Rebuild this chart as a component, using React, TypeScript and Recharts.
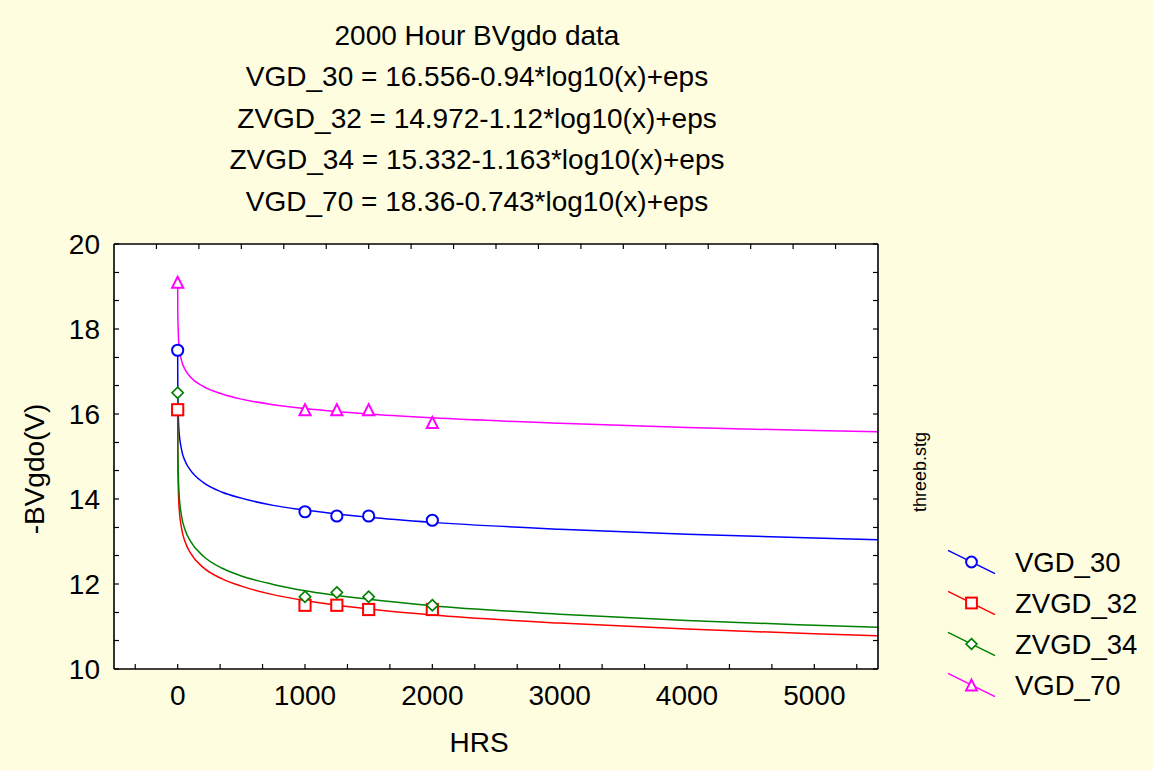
import React from "react";
import { ComposedChart, Line, Scatter, XAxis, YAxis, CartesianGrid } from "recharts";

// measured points (HRS vs -BVgdo)
const hours = [0, 1000, 1250, 1500, 2000];
const vgd30 = [17.5, 13.7, 13.6, 13.6, 13.5];
const zvgd32 = [16.1, 11.5, 11.5, 11.4, 11.4];
const zvgd34 = [16.5, 11.7, 11.8, 11.7, 11.5];
const vgd70 = [19.1, 16.1, 16.1, 16.1, 15.8];

// fitted log curves
const fitHours = [0.1, 1, 10, 30, 60, 100, 200, 350, 500, 750, 1000, 1500, 2000, 3000, 4000, 5000, 5500];
const fit30 = [17.5, 16.56, 15.62, 15.17, 14.88, 14.68, 14.39, 14.16, 14.02, 13.85, 13.74, 13.57, 13.45, 13.29, 13.17, 13.08, 13.04];
const fit32 = [16.09, 14.97, 13.85, 13.32, 12.98, 12.73, 12.39, 12.12, 11.95, 11.75, 11.61, 11.41, 11.27, 11.08, 10.94, 10.83, 10.78];
const fit34 = [16.5, 15.33, 14.17, 13.61, 13.26, 13.01, 12.66, 12.37, 12.19, 11.99, 11.84, 11.64, 11.49, 11.29, 11.14, 11.03, 10.98];
const fit70 = [19.1, 18.36, 17.62, 17.26, 17.04, 16.87, 16.65, 16.47, 16.35, 16.22, 16.13, 16.0, 15.91, 15.78, 15.68, 15.61, 15.58];

const xLabels = [0, 1000, 2000, 3000, 4000, 5000];
const xTicks = [-333.33, 0, 333.33, 666.67, 1000, 1333.33, 1666.67, 2000, 2333.33, 2666.67, 3000, 3333.33, 3666.67, 4000, 4333.33, 4666.67, 5000, 5333.33];
const topTicks = [-166.67, 166.67, 500, 833.33, 1166.67, 1500, 1833.33, 2166.67, 2500, 2833.33, 3166.67, 3500, 3833.33, 4166.67, 4500, 4833.33, 5166.67];
const yLabels = [10, 12, 14, 16, 18, 20];
const yTicks = [10, 10.67, 11.33, 12, 12.67, 13.33, 14, 14.67, 15.33, 16, 16.67, 17.33, 18, 18.67, 19.33, 20];

const titleLines = [
  "2000 Hour BVgdo data",
  "VGD_30 = 16.556-0.94*log10(x)+eps",
  "ZVGD_32 = 14.972-1.12*log10(x)+eps",
  "ZVGD_34 = 15.332-1.163*log10(x)+eps",
  "VGD_70 = 18.36-0.743*log10(x)+eps",
];

const FONT = "'Liberation Sans', Arial, sans-serif";

type Kind = "circle" | "square" | "diamond" | "triangle";

const series: { name: string; color: string; kind: Kind; pts: number[]; fit: number[] }[] = [
  { name: "VGD_30", color: "#0000ff", kind: "circle", pts: vgd30, fit: fit30 },
  { name: "ZVGD_32", color: "#ff0000", kind: "square", pts: zvgd32, fit: fit32 },
  { name: "ZVGD_34", color: "#008000", kind: "diamond", pts: zvgd34, fit: fit34 },
  { name: "VGD_70", color: "#ff00ff", kind: "triangle", pts: vgd70, fit: fit70 },
];

function Marker({ kind, cx, cy, color, s = 5.6 }: { kind: Kind; cx: number; cy: number; color: string; s?: number }) {
  const common = { fill: "#fff", stroke: color, strokeWidth: 2 };
  if (kind === "circle") return <circle cx={cx} cy={cy} r={s} {...common} />;
  if (kind === "square") return <rect x={cx - s} y={cy - s} width={s * 2} height={s * 2} {...common} />;
  if (kind === "diamond")
    return <polygon points={`${cx},${cy - s} ${cx + s},${cy} ${cx},${cy + s} ${cx - s},${cy}`} {...common} strokeWidth={1.7} />;
  return <polygon points={`${cx},${cy - s} ${cx + s},${cy + s} ${cx - s},${cy + s}`} {...common} />;
}

const near = (a: number[], v: number) => a.some((t) => Math.abs(t - v) < 0.01);

const BottomTick = (p: any) => {
  const { x, y, payload } = p;
  return (
    <g>
      <line x1={x} y1={y} x2={x} y2={y - 5} stroke="#000" strokeWidth={1.2} />
      {near(xLabels, payload.value) && (
        <text x={x} y={y + 36} textAnchor="middle" fontSize={28} fontFamily={FONT} fill="#000">
          {Math.round(payload.value)}
        </text>
      )}
    </g>
  );
};

const TopTick = (p: any) => (
  <line x1={p.x} y1={p.y} x2={p.x} y2={p.y + 5} stroke="#000" strokeWidth={1.2} />
);

const LeftTick = (p: any) => {
  const { x, y, payload } = p;
  return (
    <g>
      <line x1={x} y1={y} x2={x + 5} y2={y} stroke="#000" strokeWidth={1.2} />
      {near(yLabels, payload.value) && (
        <text x={x - 14} y={y + 10} textAnchor="end" fontSize={28} fontFamily={FONT} fill="#000">
          {Math.round(payload.value)}
        </text>
      )}
    </g>
  );
};

const RightTick = (p: any) => (
  <line x1={p.x} y1={p.y} x2={p.x - 5} y2={p.y} stroke="#000" strokeWidth={1.2} />
);

export default function App() {
  const axisLine = { stroke: "#000", strokeWidth: 1.6 };
  return (
    <div style={{ position: "relative", width: 1153, height: 770, background: "#fffde0" }}>
      <style>{`body{margin:0}`}</style>
      <ComposedChart width={1153} height={770} margin={{ top: 243, right: 274, bottom: 0, left: 0 }}>
        <CartesianGrid horizontal={false} vertical={false} fill="#ffffff" />
        <XAxis
          dataKey="hrs"
          type="number"
          domain={[-500, 5500]}
          allowDataOverflow
          ticks={xTicks}
          interval={0}
          height={101}
          tickSize={0}
          tickMargin={0}
          tickLine={false}
          axisLine={axisLine}
          tick={<BottomTick />}
        />
        <XAxis
          xAxisId="top"
          dataKey="hrs"
          orientation="top"
          type="number"
          domain={[-500, 5500]}
          allowDataOverflow
          ticks={topTicks}
          interval={0}
          height={1}
          tickSize={0}
          tickMargin={0}
          tickLine={false}
          axisLine={axisLine}
          tick={<TopTick />}
        />
        <YAxis
          type="number"
          domain={[10, 20]}
          allowDataOverflow
          ticks={yTicks}
          interval={0}
          width={114}
          tickSize={0}
          tickMargin={0}
          tickLine={false}
          axisLine={axisLine}
          tick={<LeftTick />}
        />
        <YAxis
          yAxisId="right"
          orientation="right"
          type="number"
          domain={[10, 20]}
          allowDataOverflow
          ticks={yTicks}
          interval={0}
          width={1}
          tickSize={0}
          tickMargin={0}
          tickLine={false}
          axisLine={axisLine}
          tick={<RightTick />}
        />
        {series.map((s) => (
          <Line
            key={s.name + "-fit"}
            data={fitHours.map((h, i) => ({ hrs: h, v: s.fit[i] }))}
            dataKey="v"
            type="monotone"
            stroke={s.color}
            strokeWidth={1.5}
            dot={false}
            activeDot={false}
            isAnimationActive={false}
            legendType="none"
          />
        ))}
        {series.map((s) => (
          <Scatter
            key={s.name + "-pts"}
            name={s.name}
            data={hours.map((h, i) => ({ hrs: h, v: s.pts[i] }))}
            dataKey="v"
            isAnimationActive={false}
            shape={(p: any) => <Marker kind={s.kind} cx={p.cx} cy={p.cy} color={s.color} />}
          />
        ))}
        {/* invisible series so the top and right frame axes get drawn */}
        <Line
          xAxisId="top"
          yAxisId="right"
          data={fitHours.map((h, i) => ({ hrs: h, v: fit30[i] }))}
          dataKey="v"
          stroke="none"
          dot={false}
          activeDot={false}
          isAnimationActive={false}
          legendType="none"
        />
      </ComposedChart>
      <svg
        width={1153}
        height={770}
        style={{ position: "absolute", left: 0, top: 0, pointerEvents: "none" }}
        fontFamily={FONT}
      >
        {titleLines.map((t, i) => (
          <text key={t} x={477} y={45 + i * 41.4} textAnchor="middle" fontSize={28} fill="#000">
            {t}
          </text>
        ))}
        <text x={479} y={752} textAnchor="middle" fontSize={28} fill="#000">
          HRS
        </text>
        <text transform="translate(34,469) rotate(-90)" x={0} y={10} textAnchor="middle" fontSize={28} fill="#000">
          -BVgdo(V)
        </text>
        <text transform="translate(920,472) rotate(-90)" x={0} y={6} textAnchor="middle" fontSize={18} fill="#000">
          threeb.stg
        </text>
        {series.map((s, i) => {
          const cy = 562 + i * 41;
          return (
            <g key={s.name}>
              <line x1={948} y1={cy - 11.7} x2={995} y2={cy + 11.7} stroke={s.color} strokeWidth={1.5} />
              <Marker kind={s.kind} cx={971.5} cy={cy} color={s.color} s={5.4} />
              <text x={1015} y={cy + 9.7} fontSize={27.5} fill="#000">
                {s.name}
              </text>
            </g>
          );
        })}
      </svg>
    </div>
  );
}
